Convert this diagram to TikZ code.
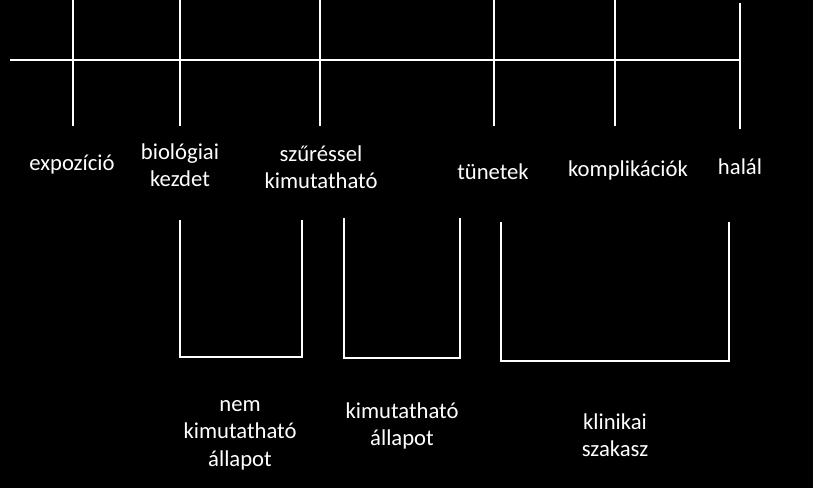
\documentclass[tikz,border=0pt]{standalone}
\usepackage{fontspec}
\setmainfont{Carlito}
\begin{document}
\begin{tikzpicture}[x=0.75pt,y=-0.75pt,line width=1.5pt,
    lbl/.style={text=white, font=\fontsize{17}{20.6}\selectfont, align=center, inner sep=0pt}]
    % Background
    \fill[black] (0,0) rectangle (813,488);
    \useasboundingbox (0,0) rectangle (813,488);

    % Time axis
    \coordinate (axisstart) at (10,60);
    \coordinate (axisend) at (740,60);
    \draw[white] (axisstart) -- (axisend);

    % Event ticks
    \coordinate (expo-top) at (73,0);    \coordinate (expo-bot) at (73,126);
    \coordinate (bio-top) at (180,0);    \coordinate (bio-bot) at (180,126);
    \coordinate (szur-top) at (320,0);   \coordinate (szur-bot) at (320,126);
    \coordinate (tun-top) at (494,0);    \coordinate (tun-bot) at (494,126);
    \coordinate (kompl-top) at (615,0);  \coordinate (kompl-bot) at (615,126);
    \coordinate (halal-top) at (740,3);  \coordinate (halal-bot) at (740,129);
    \foreach \name in {expo,bio,szur,tun,kompl,halal} {
        \draw[white] (\name-top) -- (\name-bot);
    }

    % Event labels
    \node[lbl] (expo-lbl) at (72,165) {expozíció};
    \node[lbl] (bio-lbl) at (180,165) {biológiai\\kezdet};
    \node[lbl] (szur-lbl) at (321,167) {szűréssel\\kimutatható};
    \node[lbl] (tun-lbl) at (493,172) {tünetek};
    \node[lbl] (kompl-lbl) at (628,170) {komplikációk};
    \node[lbl] (halal-lbl) at (740,167) {halál};

    % Phase brackets
    \coordinate (nemki-lt) at (180,220); \coordinate (nemki-rt) at (302,220); \coordinate (nemki-rb) at (302,357);
    \coordinate (kimut-lt) at (344,218); \coordinate (kimut-rt) at (460,218); \coordinate (kimut-rb) at (460,358);
    \coordinate (klin-lt) at (501,222);  \coordinate (klin-rt) at (729,222);  \coordinate (klin-rb) at (729,361);
    \foreach \name in {nemki,kimut,klin} {
        \draw[white] (\name-lt) |- (\name-rb) -- (\name-rt);
    }

    % Phase labels
    \node[lbl] (nemki-lbl) at (240,435) {nem\\kimutatható\\állapot};
    \node[lbl] (kimut-lbl) at (402,426) {kimutatható\\állapot};
    \node[lbl] (klin-lbl) at (615,435) {klinikai\\szakasz};
\end{tikzpicture}
\end{document}
